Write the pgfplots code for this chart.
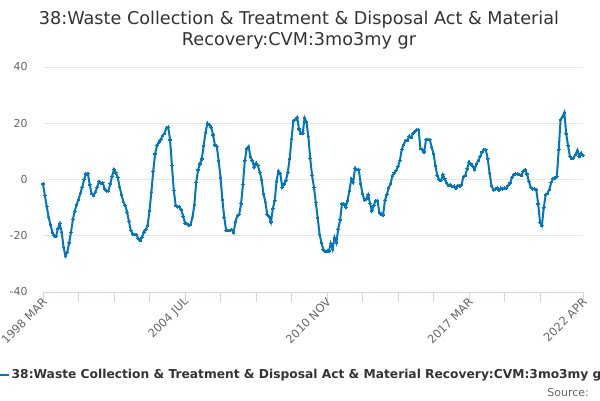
\documentclass[border=0pt]{standalone}
\usepackage{fontspec}
\setmainfont{DejaVu Sans}
\usepackage{pgfplots}
\pgfplotsset{compat=1.18}
\usepackage{pgfplotstable}
\definecolor{series}{RGB}{0,119,190}
\definecolor{gridc}{HTML}{E6E6E6}
\definecolor{axisc}{HTML}{CCD6EB}
\definecolor{labc}{HTML}{666666}
\definecolor{titc}{HTML}{333333}
\pgfplotstableread{
x y
0 -1.5
1 -5.7
2 -9.5
3 -13.4
4 -16.0
5 -18.7
6 -20.0
7 -20.1
8 -17.5
9 -15.7
10 -18.7
11 -24.0
12 -27.2
13 -25.8
14 -22.5
15 -18.7
16 -14.2
17 -11.2
18 -8.9
19 -7.1
20 -4.9
21 -2.7
22 0.0
23 2.0
24 2.2
25 -1.8
26 -4.9
27 -5.7
28 -4.5
29 -2.7
30 -0.7
31 -1.2
32 -1.2
33 -3.3
34 -4.1
35 -4.1
36 -1.5
37 1.2
38 3.6
39 2.4
40 0.8
41 -2.7
42 -5.3
43 -8.0
44 -9.2
45 -11.6
46 -14.9
47 -18.1
48 -19.3
49 -19.5
50 -19.6
51 -21.0
52 -21.7
53 -20.5
54 -18.7
55 -17.8
56 -16.3
57 -11.0
58 -4.5
59 3.0
60 9.1
61 12.1
62 13.3
63 14.1
64 15.6
65 16.4
66 18.3
67 18.6
68 14.1
69 5.0
70 -3.9
71 -9.2
72 -9.8
73 -9.6
74 -10.8
75 -13.0
76 -15.5
77 -15.7
78 -16.3
79 -16.0
80 -13.4
81 -9.0
82 -1.0
83 3.4
84 5.6
85 7.3
86 12.1
87 16.8
88 20.0
89 19.5
90 18.6
91 15.9
92 12.3
93 11.8
94 6.7
95 0.8
96 -7.2
97 -13.4
98 -18.1
99 -18.1
100 -18.1
101 -17.8
102 -18.9
103 -15.1
104 -12.8
105 -12.4
106 -8.6
107 -1.8
108 6.7
109 10.9
110 11.8
111 8.2
112 6.7
113 4.4
114 5.8
115 5.0
116 2.6
117 0.0
118 -5.1
119 -8.0
120 -12.4
121 -13.1
122 -15.1
123 -10.4
124 -7.5
125 -0.6
126 3.0
127 2.2
128 -2.7
129 -1.5
130 -0.4
131 2.6
132 7.3
133 14.4
134 20.9
135 21.3
136 22.1
137 18.0
138 16.3
139 16.5
140 21.9
141 20.5
142 15.4
143 7.6
144 1.4
145 -2.7
146 -8.1
147 -13.5
148 -19.4
149 -22.4
150 -25.0
151 -25.6
152 -25.4
153 -25.4
154 -22.7
155 -24.8
156 -20.6
157 -22.4
158 -17.6
159 -14.3
160 -8.7
161 -8.7
162 -9.9
163 -7.5
164 -3.9
165 0.2
166 -1.0
167 4.0
168 3.5
169 3.5
170 -1.5
171 -5.1
172 -7.3
173 -6.9
174 -5.4
175 -8.5
176 -11.1
177 -9.3
178 -7.5
179 -7.5
180 -11.7
181 -12.3
182 -12.6
183 -7.5
184 -5.4
185 -3.0
186 -1.5
187 1.4
188 2.4
189 3.2
190 4.6
191 6.8
192 10.7
193 12.4
194 13.9
195 13.9
196 15.4
197 14.9
198 16.3
199 17.1
200 17.7
201 17.7
202 11.0
203 10.6
204 9.8
205 14.2
206 14.2
207 14.2
208 11.5
209 9.2
210 5.0
211 1.4
212 -0.1
213 -0.4
214 1.7
215 0.2
216 -1.2
217 -2.1
218 -1.8
219 -2.5
220 -2.4
221 -3.0
222 -2.1
223 -2.4
224 -1.9
225 1.1
226 1.4
227 3.8
228 6.2
229 5.6
230 4.7
231 3.5
232 5.6
233 6.8
234 8.2
235 9.8
236 10.6
237 10.6
238 7.4
239 2.3
240 -2.1
241 -3.7
242 -3.5
243 -3.0
244 -3.7
245 -3.1
246 -3.3
247 -3.1
248 -3.1
249 -2.1
250 -1.2
251 0.8
252 1.8
253 2.0
254 2.0
255 1.8
256 1.4
257 3.0
258 3.5
259 2.0
260 -0.6
261 -2.7
262 -3.3
263 -3.3
264 -3.7
265 -8.7
266 -15.2
267 -16.4
268 -10.0
269 -5.5
270 -4.9
271 -3.5
272 -1.0
273 0.4
274 0.5
275 1.2
276 10.6
277 21.3
278 22.3
279 23.8
280 16.3
281 12.0
282 8.2
283 7.4
284 7.7
285 8.9
286 10.4
287 8.2
288 9.4
289 8.6
}\datatable
\begin{document}
\begin{tikzpicture}[x=1bp,y=1bp]
\useasboundingbox (0,0) rectangle (600,400);
\begin{axis}[
  at={(43bp,108bp)}, anchor=south west,
  scale only axis, width=540bp, height=225bp,
  xmin=0, xmax=289, ymin=-40, ymax=40,
  ytick={-40,-20,0,20,40},
  xtick={0,76,152,228,289},
  xticklabels={1998 MAR,2004 JUL,2010 NOV,2017 MAR,2022 APR},
  extra x ticks={19,38,57,95,114,133,171,190,209,247,266},
  extra x tick labels={},
  extra x tick style={xtick style={draw=axisc, line width=1bp}, grid=none},
  /pgf/number format/assume math mode=true,
  axis x line*=bottom, axis y line*=left,
  y axis line style={draw=none},
  x axis line style={draw=axisc, line width=1bp, -},
  ytick style={draw=none},
  xtick style={draw=axisc, line width=1bp},
  xtick align=outside, major tick length=10bp,
  ymajorgrids, grid style={draw=gridc, line width=1bp},
  yticklabel style={font=\fontsize{11}{13}\selectfont, text=labc, anchor=east, xshift=-12bp},
  xticklabel style={font=\fontsize{11.5}{13}\selectfont, text=labc, rotate=45, anchor=east, xshift=6bp, yshift=0bp},
  legend style={at={(axis description cs:0,0)}, anchor=west, xshift=-47.5bp, yshift=-83bp,
    draw=none, fill=none, inner sep=0pt, font=\fontsize{12.3}{14}\selectfont\bfseries, text=titc},
  legend cell align=left,
  legend image code/.code={\draw[series, line width=2bp] (0bp,0bp) -- (12bp,0bp);},
  clip=false,
]
\addplot[series, line width=2bp, mark=*, mark size=1.3bp, mark options={fill=series, draw=series, line width=0pt}] table[x=x,y=y] {\datatable};
\addlegendentry{38:Waste Collection \& Treatment \& Disposal Act \& Material Recovery:CVM:3mo3my gr}
\end{axis}
\node[anchor=base, text=titc, font=\fontsize{17.7}{21}\selectfont] at (299,376) {38:Waste Collection \& Treatment \& Disposal Act \& Material};
\node[anchor=base, text=titc, font=\fontsize{17.7}{21}\selectfont] at (299,355) {Recovery:CVM:3mo3my gr};
\node[anchor=base east, text=labc, font=\fontsize{11}{13}\selectfont, inner sep=0pt] at (589,4) {Source:};
\end{tikzpicture}
\end{document}
